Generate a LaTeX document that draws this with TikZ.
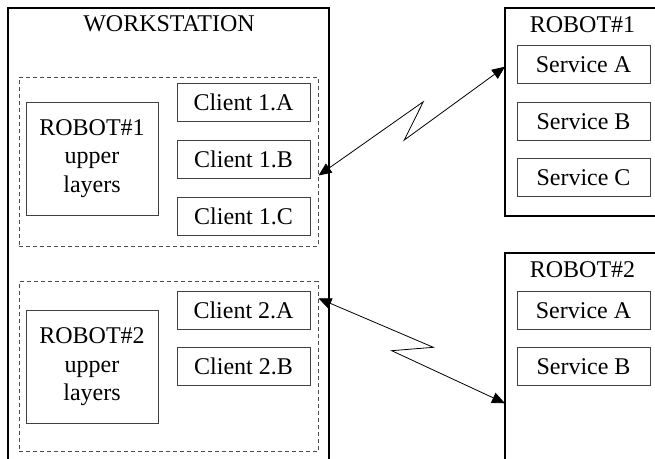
\documentclass[tikz,border=0pt]{standalone}
\usepackage{fontspec}
\setmainfont{Liberation Serif}
\usetikzlibrary{arrows.meta}
\tikzset{
  box/.style={draw=black!75, line width=1pt, inner sep=0pt, align=center, font=\fontsize{24}{28.5}\selectfont},
  grp/.style={draw=black!70, line width=1pt, dash pattern=on 4pt off 3pt, inner sep=0pt},
  frame/.style={draw=black, line width=2pt},
  lbl/.style={font=\fontsize{24}{28.5}\selectfont, inner sep=0pt},
  link/.style={line width=0.8pt, {Triangle[length=13pt,width=11pt]}-{Triangle[length=13pt,width=11pt]}},
}
\begin{document}
\begin{tikzpicture}[x=1pt,y=-1pt]
\useasboundingbox (0,0) rectangle (655,458);
% workstation frame (open at bottom)
\coordinate (wsbl) at (8,460);
\coordinate (wstl) at (8,8);
\coordinate (wstr) at (329,8);
\coordinate (wsbr) at (329,460);
\draw[frame] (wsbl) -- (wstl) -- (wstr) -- (wsbr);
\node[lbl] (wslabel) at (169,24) {WORKSTATION};
% group 1
\node[grp, minimum width=299pt, minimum height=169pt] (g1) at (168.5,161.5) {};
\node[box, minimum width=132pt, minimum height=113pt] (u1) at (92,158.5) {ROBOT\#1\\upper\\layers};
\node[box, minimum width=133pt, minimum height=38pt] (c1a) at (243.5,102) {Client 1.A};
\node[box, minimum width=133pt, minimum height=38pt] (c1b) at (243.5,159) {Client 1.B};
\node[box, minimum width=133pt, minimum height=38pt] (c1c) at (243.5,216) {Client 1.C};
% group 2
\node[grp, minimum width=299pt, minimum height=170pt] (g2) at (168.5,366.7) {};
\node[box, minimum width=132pt, minimum height=113pt] (u2) at (92,366.7) {ROBOT\#2\\upper\\layers};
\node[box, minimum width=133pt, minimum height=38pt] (c2a) at (243.5,310.3) {Client 2.A};
\node[box, minimum width=133pt, minimum height=38pt] (c2b) at (243.5,366.7) {Client 2.B};
% robot 1 frame
\coordinate (r1tr) at (657,8);
\coordinate (r1tl) at (505,8);
\coordinate (r1bl) at (505,216);
\coordinate (r1br) at (657,216);
\draw[frame] (r1tr) -- (r1tl) -- (r1bl) -- (r1br);
\node[lbl] (r1label) at (582.5,25) {ROBOT\#1};
\node[box, minimum width=133pt, minimum height=38pt] (s1a) at (583.5,64.5) {Service A};
\node[box, minimum width=133pt, minimum height=38pt] (s1b) at (583.5,121.2) {Service B};
\node[box, minimum width=133pt, minimum height=38pt] (s1c) at (583.5,177.8) {Service C};
% robot 2 frame
\coordinate (r2tr) at (657,253.3);
\coordinate (r2tl) at (505,253.3);
\coordinate (r2bl) at (505,460);
\draw[frame] (r2tr) -- (r2tl) -- (r2bl);
\node[lbl] (r2label) at (582.5,270) {ROBOT\#2};
\node[box, minimum width=133pt, minimum height=38pt] (s2a) at (583.5,310.3) {Service A};
\node[box, minimum width=133pt, minimum height=38pt] (s2b) at (583.5,366.7) {Service B};
% links
\coordinate (l1a) at (g1.east |- 0,175.5);
\coordinate (l1b) at (423.3,101.7);
\coordinate (l1c) at (404.3,140);
\coordinate (l1d) at (r1tl |- 0,66.7);
\draw[link] (l1a) -- (l1b) -- (l1c) -- (l1d);
\coordinate (l2a) at (g2.east |- 0,298.3);
\coordinate (l2b) at (433.3,347.3);
\coordinate (l2c) at (391.7,350.7);
\coordinate (l2d) at (r2tl |- 0,403.3);
\draw[link] (l2a) -- (l2b) -- (l2c) -- (l2d);
\end{tikzpicture}
\end{document}
